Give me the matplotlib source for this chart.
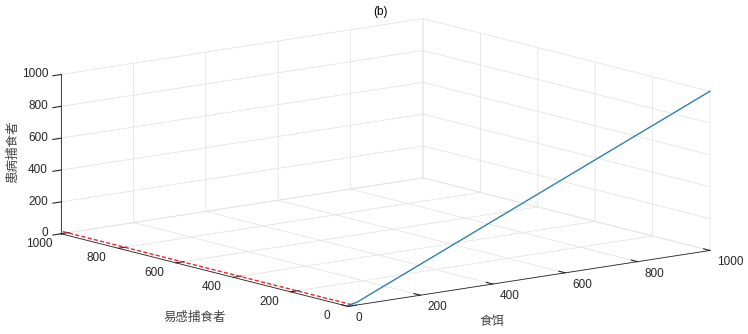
import numpy as np
import matplotlib
matplotlib.use('Agg')
import matplotlib.pyplot as plt

plt.rcParams['font.family'] = ['Liberation Sans', 'Noto Sans CJK SC']

# trayectoria azul (食饵, 易感捕食者, 患病捕食者)
prey_b = [1000, 25, 6, 14]
sus_b = [0, 0, 6, 4]
inf_b = [1000, 18, 3, 2]

# trayectoria roja discontinua
prey_r = [5, 5]
sus_r = [1000, 0]
inf_r = [12, 12]

ticks = [0, 200, 400, 600, 800, 1000]

fig = plt.figure(figsize=(7.48, 3.34), dpi=100)
ax = fig.add_axes([7 / 748, 0, 1, 1], projection='3d', proj_type='ortho')

ax.plot(prey_b, sus_b, inf_b, color='#3180aa', lw=1.0, clip_on=False)
ax.plot(prey_r, sus_r, inf_r, color='#e8262b', lw=1.0, ls=(0, (3, 1.6)), clip_on=False)

ax.set_xlim(0, 1000)
ax.set_ylim(0, 1000)
ax.set_zlim(0, 1000)
ax.set_xticks(ticks)
ax.set_yticks(ticks)
ax.set_zticks(ticks)

ax.view_init(elev=11.4, azim=-128)
ax.set_box_aspect((1.015, 1.03, 0.359), zoom=1.96)

for axis in (ax.xaxis, ax.yaxis, ax.zaxis):
    axis.set_pane_color((1, 1, 1, 0))
    axis.pane.set_edgecolor('#d4d4d4')
    axis._axinfo['grid'].update(color='#e4e4e4', linewidth=0.6)
    axis._axinfo['tick'].update(inward_factor=0.0, outward_factor=0.28)
    axis.line.set_color('#262626')
    axis.line.set_linewidth(0.6)
ax.zaxis._axinfo['tick'].update(inward_factor=0.28, outward_factor=0.0)

ax.tick_params(labelsize=8.5, colors='#262626')
ax.tick_params(axis='x', pad=-4.8)
ax.tick_params(axis='y', pad=-0.5)
ax.tick_params(axis='z', pad=-5.5)
for t in ax.get_xticklabels():
    t.set_ha('left')
    t.set_va('top')
for t in ax.get_yticklabels():
    t.set_ha('center')
    t.set_va('baseline')
for t in ax.get_zticklabels():
    t.set_ha('right')
    t.set_va('center')

ax.set_xlabel('')
ax.set_ylabel('')
ax.set_zlabel('')
lab = dict(fontsize=9, color='#444444', ha='center', va='center')
fig.text(492 / 748, 1 - 322 / 334, '食饵', **lab)
fig.text(195 / 748, 1 - 318 / 334, '易感捕食者', **lab)
fig.text(13 / 748, 1 - 152 / 334, '患病捕食者', rotation=90, **lab)

fig.text(381 / 748, 1 - 12 / 334, '(b)', ha='center', va='center', fontsize=8.5)

fig.savefig('out.png', dpi=100)
